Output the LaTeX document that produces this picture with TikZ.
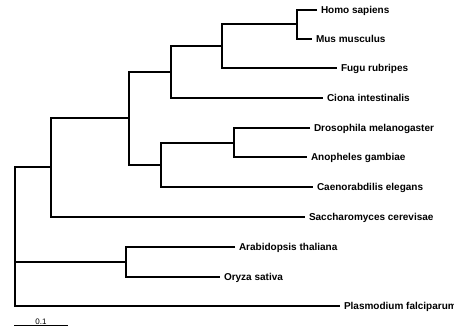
\documentclass[tikz,border=0pt]{standalone}
\usepackage{fontspec}
\setmainfont{Liberation Sans}
\usepackage{tikz}
\usetikzlibrary{positioning,calc}

\begin{document}
\begin{tikzpicture}[
  x=1pt, y=-1pt,
  branch/.style={line width=2pt, draw=black},
  leaf/.style={anchor=west, font=\bfseries\fontsize{10}{12}\selectfont, inner xsep=3.8pt, inner ysep=0pt, text height=7.2pt, text depth=0pt},
  scalebar/.style={line width=1pt, draw=black},
  scalelabel/.style={font=\fontsize{8}{9}\selectfont, inner sep=0.6pt, text height=5.8pt, text depth=0pt}
]
\useasboundingbox (0,0) rectangle (454,326);

% internal nodes
\coordinate (mammals) at (297,24);
\coordinate (vertebrates) at (222,46);
\coordinate (chordates) at (171,72);
\coordinate (insects) at (234,143);
\coordinate (ecdysozoa) at (161,165);
\coordinate (metazoa) at (129,118);
\coordinate (opisthokonts) at (51,167);
\coordinate (plants) at (126,262);
\coordinate (root) at (15,262);

% leaves
\node[leaf] (homo) at (317,10) {Homo sapiens};
\node[leaf] (mus) at (312,39) {Mus musculus};
\node[leaf] (fugu) at (337,68) {Fugu rubripes};
\node[leaf] (ciona) at (323,98) {Ciona intestinalis};
\node[leaf] (dros) at (310,128) {Drosophila melanogaster};
\node[leaf] (anoph) at (307,157) {Anopheles gambiae};
\node[leaf] (caeno) at (313,187) {Caenorabdilis elegans};
\node[leaf] (sacch) at (305,217) {Saccharomyces cerevisae};
\node[leaf] (arab) at (235,247) {Arabidopsis thaliana};
\node[leaf] (oryza) at (220,277) {Oryza sativa};
\node[leaf] (plasm) at (340,306) {Plasmodium falciparum};

% branches, one elbow path per split
\draw[branch] (homo.west) -| (mammals) |- (mus.west);
\draw[branch] (mammals) -| (vertebrates) |- (fugu.west);
\draw[branch] (vertebrates) -| (chordates) |- (ciona.west);
\draw[branch] (dros.west) -| (insects) |- (anoph.west);
\draw[branch] (insects) -| (ecdysozoa) |- (caeno.west);
\draw[branch] (chordates) -| (metazoa) |- (ecdysozoa);
\draw[branch] (metazoa) -| (opisthokonts) |- (sacch.west);
\draw[branch] (arab.west) -| (plants) |- (oryza.west);
\draw[branch] (opisthokonts) -| (root) -- (plants);
\draw[branch] (root) |- (plasm.west);

% scale
\coordinate (bar0) at (14,325.5);
\coordinate (bar1) at (68,325.5);
\draw[scalebar] (bar0) -- (bar1);
\node[scalelabel, anchor=south] (barlabel) at ($(bar0)!0.5!(bar1)$) {0.1};

\end{tikzpicture}
\end{document}
